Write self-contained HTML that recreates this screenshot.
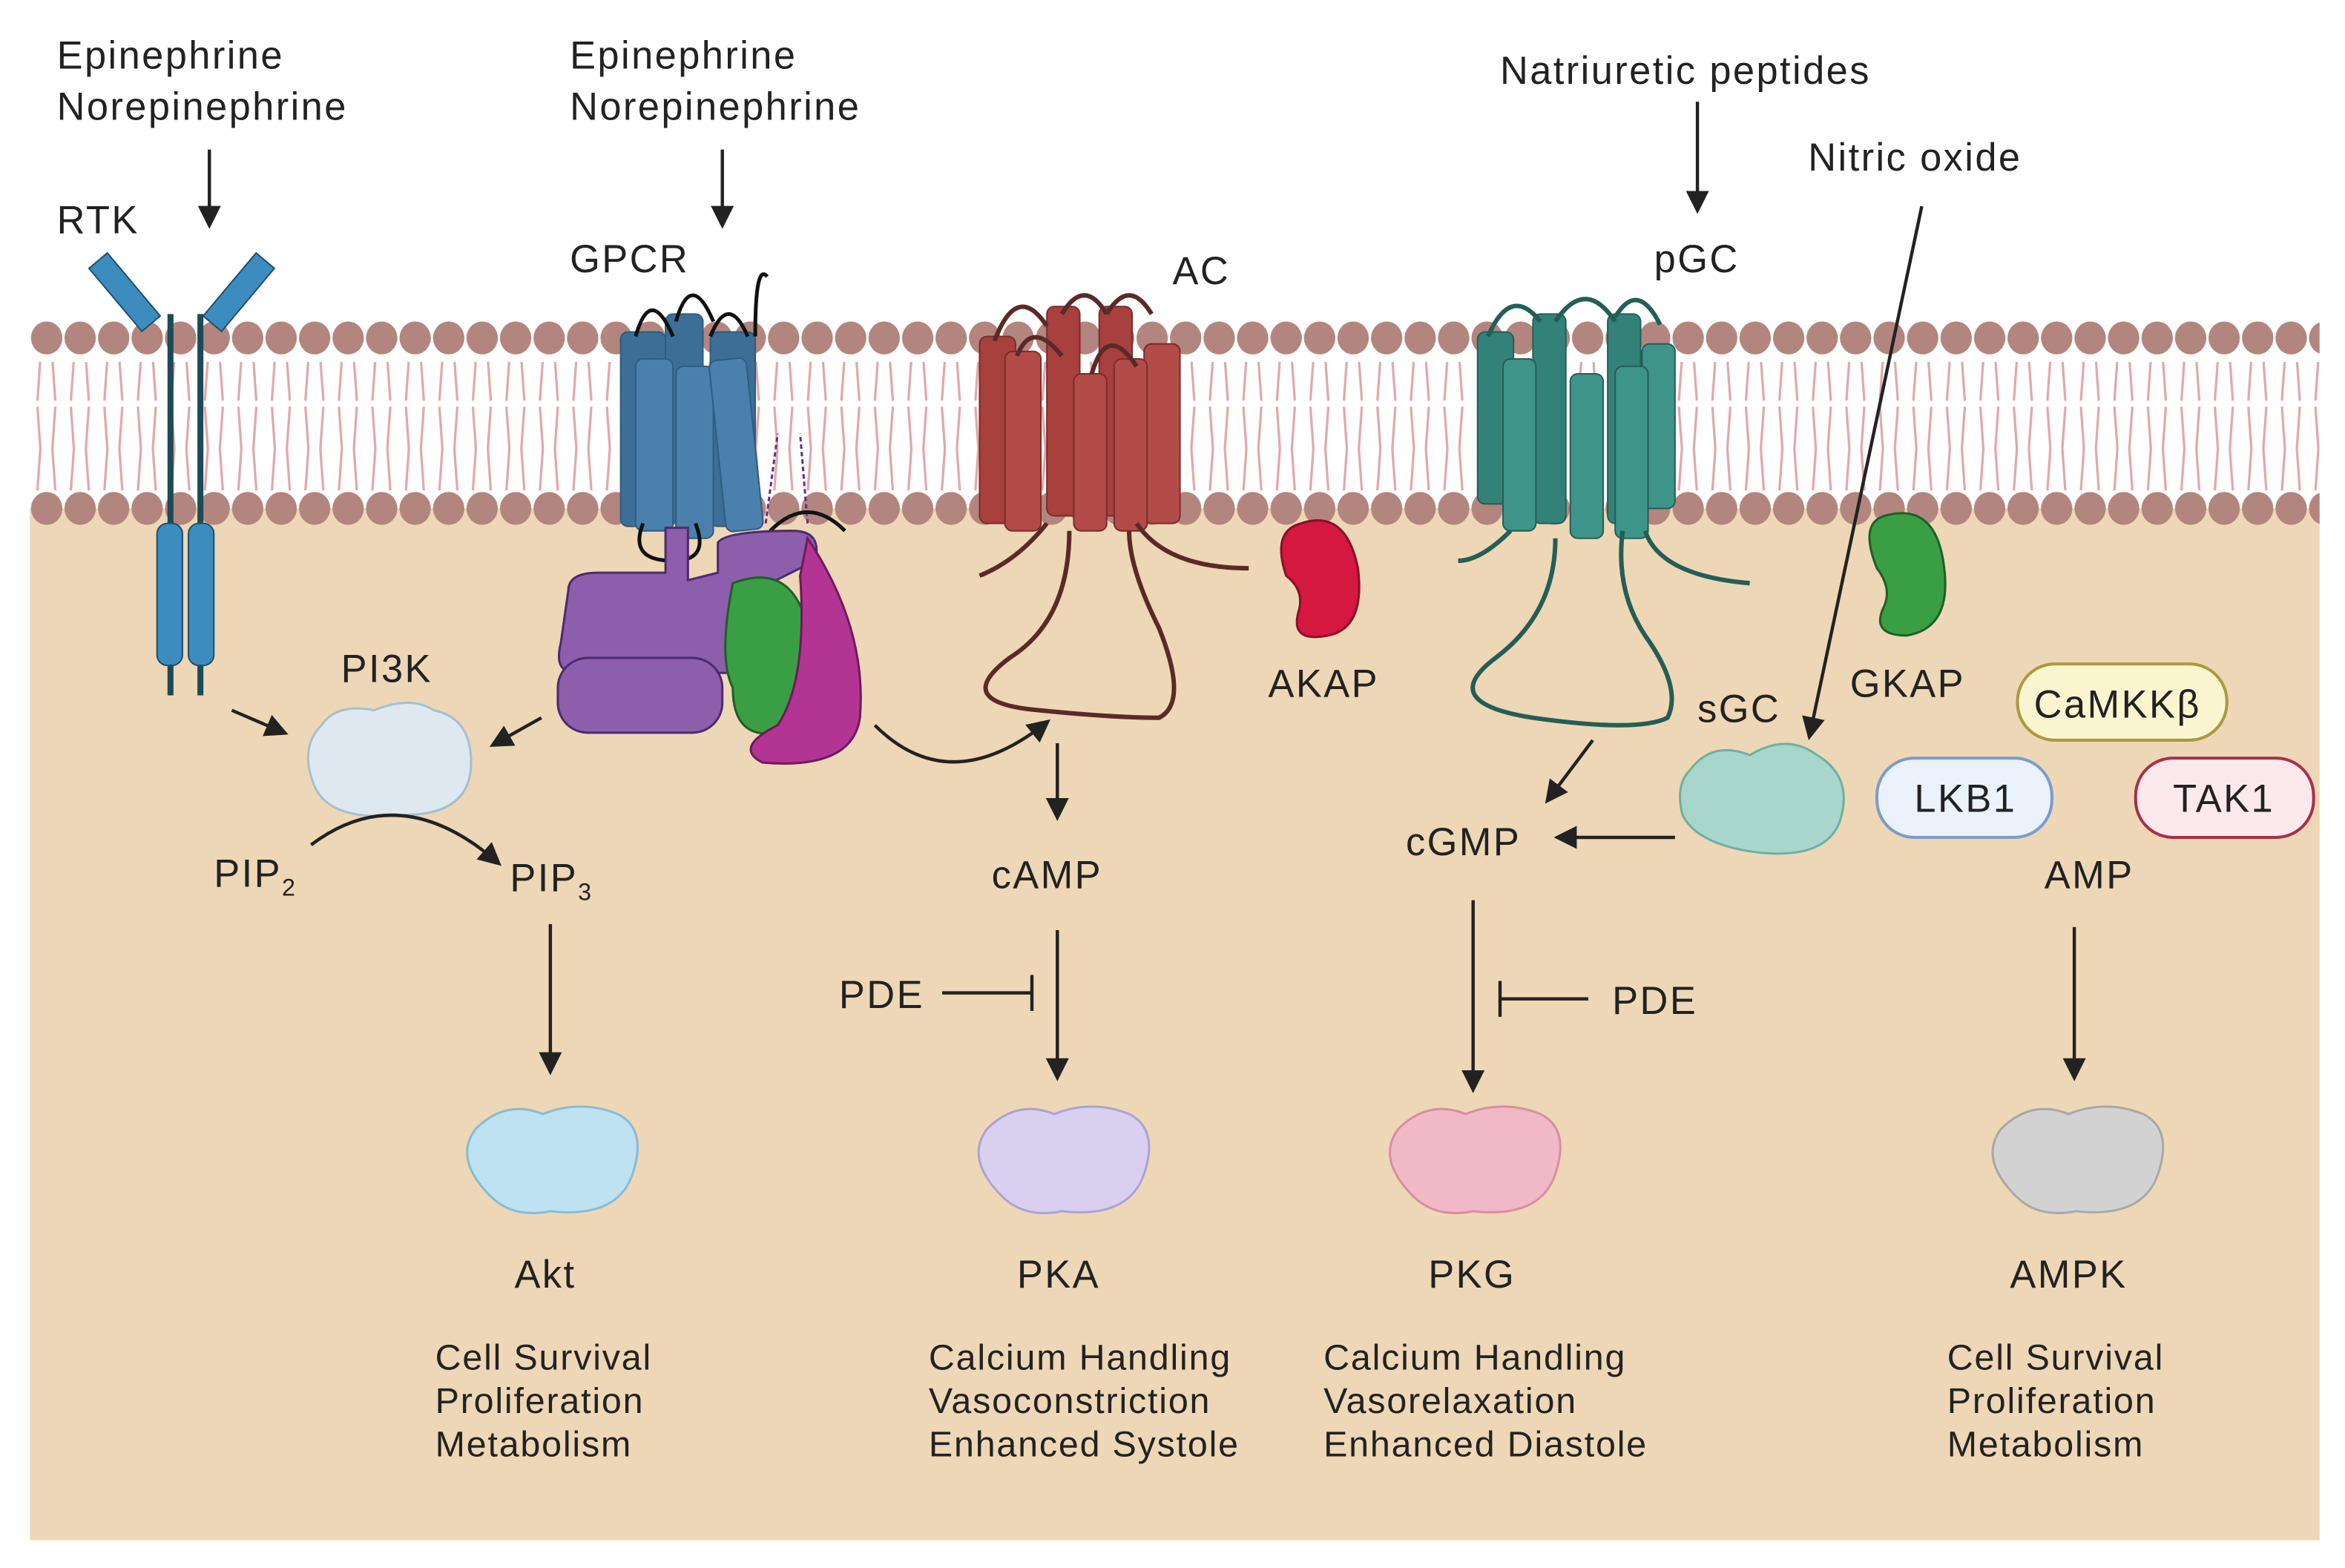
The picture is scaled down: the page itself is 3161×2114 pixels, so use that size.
<!DOCTYPE html>
<html><head><meta charset="utf-8"><style>
html,body{margin:0;padding:0;background:#fff}
svg{display:block}
text{font-family:"Liberation Sans",sans-serif;fill:#222}
</style></head><body>
<svg width="3161" height="2114" viewBox="0 0 1568 1048.6" preserveAspectRatio="none" xmlns="http://www.w3.org/2000/svg">
<defs>
<pattern id="heads" x="20" y="0" width="22.4" height="40" patternUnits="userSpaceOnUse">
<ellipse cx="11.2" cy="20" rx="10.5" ry="11" fill="#b2857e"/>
</pattern>
<pattern id="tails" x="20" y="0" width="22.4" height="60" patternUnits="userSpaceOnUse">
<path d="M7 0 L5 28 M15 0 L17 28 M5 32 L7 60 M17 32 L15 60" stroke="#e0a8a8" stroke-width="1.6" fill="none"/>
</pattern>
<marker id="ar" viewBox="0 0 10 10" refX="8" refY="5" markerWidth="7" markerHeight="7" orient="auto"><path d="M0,0 L10,5 L0,10 z" fill="#222"/></marker>
</defs>
<rect x="20" y="340" width="1531" height="690" fill="#eed7b6"/>
<rect x="20" y="242" width="1531" height="90" fill="url(#tails)"/>
<rect x="20" y="206" width="1531" height="40" fill="url(#heads)" transform="translate(0,6)"/>
<rect x="20" y="320" width="1531" height="40" fill="url(#heads)"/>

<!-- RTK -->
<g>
<rect x="75" y="168" width="16" height="55" fill="#3d8cc0" stroke="#1f4f6a" transform="rotate(-40 83 195)"/>
<rect x="152" y="168" width="16" height="55" fill="#3d8cc0" stroke="#1f4f6a" transform="rotate(40 160 195)"/>
<line x1="114" y1="210" x2="114" y2="465" stroke="#1d4a57" stroke-width="4"/>
<line x1="134" y1="210" x2="134" y2="465" stroke="#1d4a57" stroke-width="4"/>
<rect x="105" y="350" width="17" height="95" rx="7" fill="#3d8cc0" stroke="#1f4f6a"/>
<rect x="126" y="350" width="17" height="95" rx="7" fill="#3d8cc0" stroke="#1f4f6a"/>
</g>

<!-- GPCR -->
<g fill="#4a80ab" stroke="#2c5d82">
<rect x="415" y="222" width="30" height="130" rx="5" fill="#3d6f96"/>
<rect x="475" y="222" width="30" height="130" rx="5" fill="#3d6f96"/>
<rect x="445" y="210" width="25" height="140" rx="5" fill="#3d6f96"/>
<rect x="425" y="240" width="25" height="115" rx="5"/>
<rect x="452" y="245" width="25" height="115" rx="5"/>
<rect x="480" y="240" width="25" height="115" rx="5" transform="rotate(-6 492 300)"/>
</g>
<path d="M425 225 q10 -35 25 0 M452 215 q10 -35 25 0 M475 225 q12 -30 25 0 M505 225 q0 -50 8 -40" stroke="#111" stroke-width="2.5" fill="none"/>
<path d="M512 350 l8 -60 M540 350 l-5 -60" stroke="#6a2a8a" stroke-width="1.5" fill="none" stroke-dasharray="3 2"/>
<path d="M515 355 q25 -25 50 0" stroke="#111" stroke-width="2.5" fill="none"/>
<path d="M430 350 q-10 25 20 25 q25 0 15 -25" stroke="#111" stroke-width="2.5" fill="none"/>
<!-- G protein -->
<path d="M380 395 q0 -12 20 -12 l45 0 l0 -30 l15 0 l0 35 l20 -5 l0 -20 q5 -8 50 -8 q20 0 15 20 l-30 15 l-15 60 l-50 0 l-65 0 q-15 0 -10 -20 z" fill="#8c5eab" stroke="#4d2a6e" stroke-width="1.5"/>
<rect x="373" y="440" width="110" height="50" rx="20" fill="#8c5eab" stroke="#4d2a6e" stroke-width="1.5"/>
<path d="M490 390 q40 -15 50 30 q10 60 -20 70 q-30 5 -30 -30 q-10 -20 0 -70 z" fill="#3a9e45" stroke="#1f5e28" stroke-width="1.5"/>
<path d="M540 360 q40 60 35 120 q-5 35 -65 30 q-20 -10 10 -25 q20 -30 15 -100 z" fill="#b23594" stroke="#6e1a5b" stroke-width="1.5"/>

<!-- AC -->
<g fill="#b34b48" stroke="#7b2c2a">
<rect x="655" y="225" width="24" height="125" rx="5" fill="#a8403e"/>
<rect x="700" y="205" width="22" height="140" rx="5" fill="#a8403e"/>
<rect x="735" y="205" width="22" height="140" rx="5" fill="#a8403e"/>
<rect x="765" y="230" width="24" height="120" rx="5"/>
<rect x="672" y="235" width="24" height="120" rx="5"/>
<rect x="718" y="250" width="22" height="105" rx="5"/>
<rect x="745" y="240" width="22" height="115" rx="5"/>
</g>
<path d="M665 228 q15 -40 35 -10 M710 210 q15 -25 30 0 M740 210 q15 -25 30 0 M680 238 q10 -25 30 0 M730 250 q10 -35 30 -5" stroke="#5a2a28" stroke-width="3" fill="none"/>
<path d="M715 355 q0 60 -40 85 q-40 30 20 35 q50 5 80 5 q20 -10 0 -60 q-20 -40 -20 -65 M700 350 q-20 25 -45 35 M760 350 q20 30 75 30" stroke="#5a2a28" stroke-width="3" fill="none"/>
<!-- AKAP -->
<path d="M870 350 q30 -10 38 30 q5 40 -20 45 q-25 5 -20 -15 q5 -15 -8 -25 q-10 -30 10 -35 z" fill="#d41840" stroke="#8a0f28" stroke-width="1.5"/>

<!-- pGC -->
<g fill="#3e9488" stroke="#245e56">
<rect x="988" y="222" width="24" height="115" rx="5" fill="#33827a"/>
<rect x="1025" y="210" width="22" height="140" rx="5" fill="#33827a"/>
<rect x="1075" y="210" width="22" height="140" rx="5" fill="#33827a"/>
<rect x="1098" y="230" width="22" height="110" rx="5"/>
<rect x="1005" y="240" width="22" height="115" rx="5"/>
<rect x="1050" y="250" width="22" height="110" rx="5"/>
<rect x="1080" y="245" width="22" height="115" rx="5"/>
</g>
<path d="M995 225 q15 -35 35 -10 M1040 215 q20 -30 40 0 M1080 212 q15 -25 30 5" stroke="#245e56" stroke-width="3" fill="none"/>
<path d="M1040 360 q0 50 -40 80 q-40 30 25 40 q70 10 90 0 q10 -20 -15 -55 q-20 -30 -15 -70 M1010 355 q-20 20 -35 20 M1100 355 q10 30 70 35" stroke="#245e56" stroke-width="3" fill="none"/>
<!-- GKAP -->
<path d="M1260 345 q35 -10 40 35 q5 40 -25 45 q-25 0 -15 -20 q5 -12 -5 -25 q-12 -30 5 -35 z" fill="#3a9e45" stroke="#1f5e28" stroke-width="1.5"/>

<!-- blobs -->
<g stroke-width="1.5">
<path d="M215 485 q10 -15 35 -10 q25 -10 40 0 q25 5 25 35 q0 35 -45 35 q-50 5 -60 -20 q-10 -25 5 -40 z" fill="#dde8f0" stroke="#a8bfd0"/>
<path d="M1130 515 q15 -20 40 -10 q25 -15 45 0 q25 15 15 45 q-10 25 -55 20 q-40 -5 -50 -25 q-5 -20 5 -30 z" fill="#a9d6cc" stroke="#6fb0a2"/>
<path d="M318 755 q20 -20 45 -10 q25 -10 50 0 q20 10 10 40 q-10 30 -55 25 q-25 5 -40 -10 q-25 -25 -10 -45 z" fill="#bfe2f2" stroke="#88bcd4"/>
<path d="M660 755 q20 -20 45 -10 q25 -10 50 0 q20 10 10 40 q-10 30 -55 25 q-25 5 -40 -10 q-25 -25 -10 -45 z" fill="#d8d0ee" stroke="#aea2d2"/>
<path d="M935 755 q20 -20 45 -10 q25 -10 50 0 q20 10 10 40 q-10 30 -55 25 q-25 5 -40 -10 q-25 -25 -10 -45 z" fill="#f1b9c8" stroke="#d88ea2"/>
<path d="M1338 755 q20 -20 45 -10 q25 -10 50 0 q20 10 10 40 q-10 30 -55 25 q-25 5 -40 -10 q-25 -25 -10 -45 z" fill="#d2d2d2" stroke="#a8a8a8"/>
</g>

<!-- rounded label boxes -->
<rect x="1349" y="444" width="140" height="51" rx="25" fill="#fbf5cf" stroke="#a89a40" stroke-width="2"/>
<rect x="1255" y="507" width="117" height="53" rx="25" fill="#eaf2fc" stroke="#7c9ccc" stroke-width="2"/>
<rect x="1428" y="507" width="119" height="53" rx="25" fill="#fbe9ee" stroke="#a83048" stroke-width="2"/>

<!-- arrows -->
<g stroke="#222" stroke-width="2.2" fill="none">
<line x1="140" y1="100" x2="140" y2="150" marker-end="url(#ar)"/>
<line x1="483" y1="100" x2="483" y2="150" marker-end="url(#ar)"/>
<line x1="1135" y1="68" x2="1135" y2="140" marker-end="url(#ar)"/>
<line x1="1285" y1="138" x2="1210" y2="492" marker-end="url(#ar)"/>
<line x1="155" y1="475" x2="190" y2="490" marker-end="url(#ar)"/>
<line x1="362" y1="480" x2="330" y2="498" marker-end="url(#ar)"/>
<path d="M208 565 q60 -45 125 12" marker-end="url(#ar)"/>
<line x1="368" y1="618" x2="368" y2="716" marker-end="url(#ar)"/>
<path d="M585 485 q50 50 115 -2" marker-end="url(#ar)"/>
<line x1="707" y1="497" x2="707" y2="546" marker-end="url(#ar)"/>
<line x1="707" y1="622" x2="707" y2="720" marker-end="url(#ar)"/>
<line x1="630" y1="664" x2="690" y2="664"/><line x1="690" y1="652" x2="690" y2="676"/>
<line x1="1065" y1="495" x2="1035" y2="535" marker-end="url(#ar)"/>
<line x1="1120" y1="560" x2="1042" y2="560" marker-end="url(#ar)"/>
<line x1="985" y1="602" x2="985" y2="728" marker-end="url(#ar)"/>
<line x1="1062" y1="668" x2="1003" y2="668"/><line x1="1003" y1="656" x2="1003" y2="680"/>
<line x1="1387" y1="620" x2="1387" y2="720" marker-end="url(#ar)"/>
</g>

<!-- text -->
<g font-size="26" letter-spacing="1.2">
<text x="38" y="46">Epinephrine</text><text x="38" y="80">Norepinephrine</text>
<text x="381" y="46">Epinephrine</text><text x="381" y="80">Norepinephrine</text>
<text x="38" y="156">RTK</text>
<text x="381" y="182">GPCR</text>
<text x="784" y="190">AC</text>
<text x="1003" y="56">Natriuretic peptides</text>
<text x="1209" y="114">Nitric oxide</text>
<text x="1106" y="182">pGC</text>
<text x="228" y="456">PI3K</text>
<text x="848" y="466">AKAP</text>
<text x="1237" y="466">GKAP</text>
<text x="1135" y="483">sGC</text>
<text x="1360" y="480">CaMKKβ</text>
<text x="1280" y="543">LKB1</text>
<text x="1453" y="543">TAK1</text>
<text x="143" y="593">PIP<tspan font-size="16" dy="6">2</tspan></text>
<text x="341" y="596">PIP<tspan font-size="16" dy="6">3</tspan></text>
<text x="663" y="594">cAMP</text>
<text x="940" y="572">cGMP</text>
<text x="1367" y="594">AMP</text>
<text x="561" y="674">PDE</text>
<text x="1078" y="678">PDE</text>
<text x="344" y="861">Akt</text>
<text x="680" y="861">PKA</text>
<text x="955" y="861">PKG</text>
<text x="1344" y="861">AMPK</text>
</g>
<g font-size="24" letter-spacing="0.9">
<text x="291" y="916">Cell Survival</text><text x="291" y="945">Proliferation</text><text x="291" y="974">Metabolism</text>
<text x="621" y="916">Calcium Handling</text><text x="621" y="945">Vasoconstriction</text><text x="621" y="974">Enhanced Systole</text>
<text x="885" y="916">Calcium Handling</text><text x="885" y="945">Vasorelaxation</text><text x="885" y="974">Enhanced Diastole</text>
<text x="1302" y="916">Cell Survival</text><text x="1302" y="945">Proliferation</text><text x="1302" y="974">Metabolism</text>
</g>
</svg>
</body></html>
